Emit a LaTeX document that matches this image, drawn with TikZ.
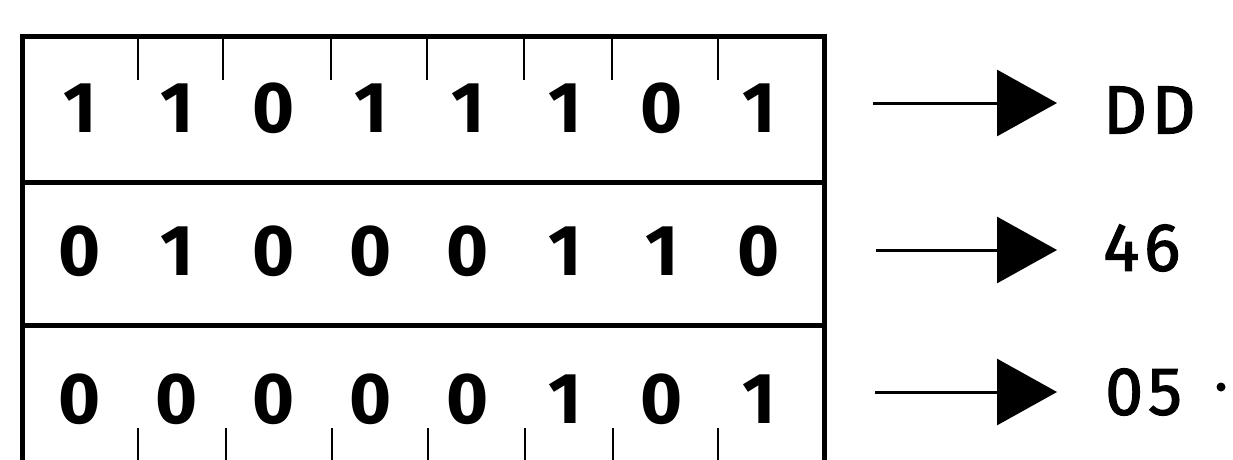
\documentclass[tikz,border=0pt]{standalone}
\usepackage{fontspec}
\setmainfont{Fira Sans}
\newfontfamily\labfont{Fira Sans}[LetterSpace=7, FakeBold=1.8]
\usetikzlibrary{arrows.meta}
\tikzset{
  boxline/.style={line width=5pt, line join=miter},
  tick/.style={line width=2.6pt},
  bit/.style={inner sep=0pt, font=\fontsize{72}{72}\selectfont\bfseries},
  lab/.style={inner sep=0pt, anchor=west, font=\fontsize{68}{68}\labfont},
  conv/.style={line width=3pt, -{Triangle[length=60pt,width=66pt]}}
}
\begin{document}
\begin{tikzpicture}[x=1pt,y=-1pt]
\useasboundingbox (0,0) rectangle (1233,459);
\fill[white] (0,0) rectangle (1233,459);
\begin{scope}
\clip (0,0) rectangle (1233,459);
% outer box and row dividers
\draw[boxline] (22,480) -- (22,36) -- (824,36) -- (824,480);
\draw[boxline] (22,182) -- (824,182);
\draw[boxline] (22,325) -- (824,325);
% ticks top
\foreach \x in {138,223,331,427,524,612,718}
  \draw[tick] (\x,36) -- (\x,80);
% ticks bottom
\foreach \x in {138,226,332,428,525,613,718}
  \draw[tick] (\x,428) -- (\x,470);
\end{scope}
% bits
\foreach \b [count=\i] in {1,1,0,1,1,1,0,1}
  \node[bit] (r1b\i) at ({80+97*(\i-1)},108) {\b};
\foreach \b [count=\i] in {0,1,0,0,0,1,1,0}
  \node[bit] (r2b\i) at ({80+97*(\i-1)},251) {\b};
\foreach \b [count=\i] in {0,0,0,0,0,1,0,1}
  \node[bit] (r3b\i) at ({80+97*(\i-1)},399) {\b};
% labels
\node[lab] (l1) at (1103,110) {DD};
\node[lab] (l2) at (1103,248) {46};
\node[lab] (l3) at (1105,392) {05};
\fill (1221,387) circle (4.5pt);
% arrows
\coordinate (s1) at (873,103);
\coordinate (s2) at (876,250);
\coordinate (s3) at (875,392);
\draw[conv] (s1) -- (s1 -| l1.west) [shorten >=46pt];
\draw[conv] (s2) -- (s2 -| l2.west) [shorten >=46pt];
\draw[conv] (s3) -- (s3 -| l3.west) [shorten >=48pt];
\end{tikzpicture}
\end{document}
